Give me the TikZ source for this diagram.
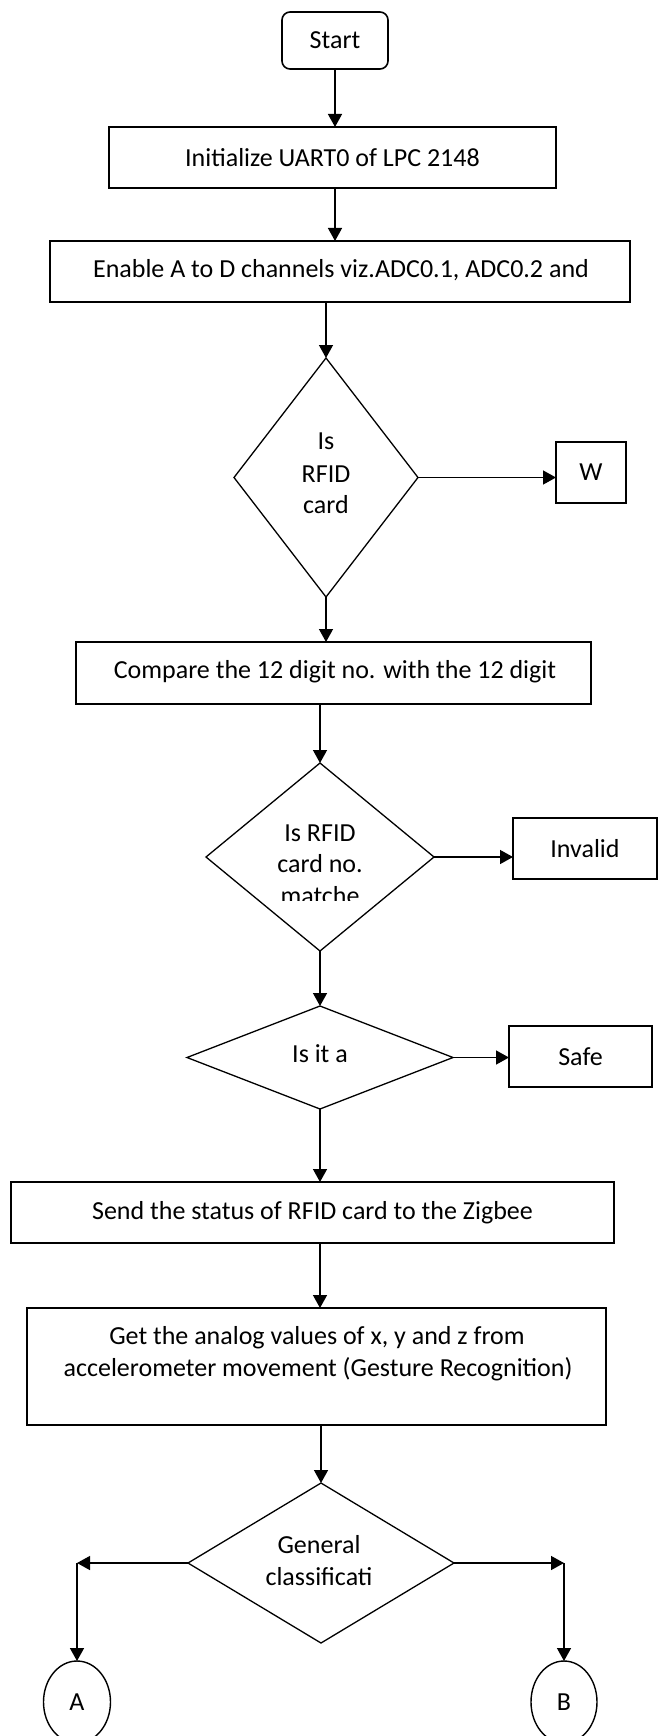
\documentclass[tikz,border=0pt]{standalone}
\usepackage{fontspec}
\setmainfont{Carlito}
\usetikzlibrary{arrows.meta,shapes.geometric}

\begin{document}
\begin{tikzpicture}[x=1pt,y=-1pt,
  font=\fontsize{26}{32}\selectfont,
  box/.style={draw,line width=1.6pt,rectangle,inner sep=0pt,outer sep=0pt},
  decision/.style={draw,line width=1.3pt,diamond,inner sep=0pt,outer sep=0pt},
  term/.style={draw,line width=1.4pt,ellipse,inner sep=0pt,outer sep=0pt},
  conn/.style={line width=1.4pt,-{Triangle[length=13pt,width=14pt]}},
  lbl/.style={inner sep=0pt,outer sep=0pt,anchor=base}
]
% page
\fill[white] (0,0) rectangle (659,1736);
\useasboundingbox (0,0) rectangle (659,1736);

% process boxes
\node[box,rounded corners=8pt,minimum width=106pt,minimum height=57pt] (start) at (335,40.5) {Start};
\node[box,minimum width=447pt,minimum height=61pt] (init) at (332.5,157.5) {Initialize UART0 of LPC 2148};
\node[box,minimum width=580pt,minimum height=61pt] (enable) at (340,271.5) {};
\node[lbl] (enabletxt) at (341,277) {Enable A to D channels viz.ADC0.1, ADC0.2 and};
\node[box,minimum width=70pt,minimum height=61pt] (w) at (591,472.5) {W};
\node[box,minimum width=515pt,minimum height=62pt] (cmp) at (333.5,673) {};
\node[lbl] (cmptxt) at (335,678) {Compare the 12 digit no. with the 12 digit};
\node[box,minimum width=144pt,minimum height=61pt] (inv) at (585,848.5) {Invalid};
\node[box,minimum width=143pt,minimum height=61pt] (safe) at (580.5,1056.5) {Safe};
\node[box,minimum width=603pt,minimum height=61pt] (send) at (312.5,1212.5) {Send the status of RFID card to the Zigbee};
\node[box,minimum width=579pt,minimum height=117pt] (get) at (316.5,1366.5) {};
\node[lbl] (gettxt1) at (317,1344) {Get the analog values of x, y and z from};
\node[lbl] (gettxt2) at (318,1376) {accelerometer movement (Gesture Recognition)};

% decisions
\node[decision,minimum width=184pt,minimum height=239pt] (d1) at (326,477.5) {};
\node[lbl] (d1a) at (326,449) {Is};
\node[lbl] (d1b) at (326,482) {RFID};
\node[lbl] (d1c) at (326,513) {card};

\node[decision,minimum width=228pt,minimum height=188pt] (d2) at (320,857) {};
\node[lbl] (d2a) at (320,841) {Is RFID};
\node[lbl] (d2b) at (320,872) {card no.};
\begin{scope}
  \clip (240,880) rectangle (400,900);
  \node[lbl] (d2c) at (320,904) {matche};
\end{scope}

\node[decision,minimum width=266pt,minimum height=103pt] (d3) at (320,1057.5) {};
\node[lbl] (d3a) at (320,1062) {Is it a};

\node[decision,minimum width=266pt,minimum height=160pt] (d4) at (321,1563) {};
\node[lbl] (d4a) at (319,1553) {General};
\node[lbl] (d4b) at (319,1585) {classificati};

% connectors
\node[term,minimum width=67pt,minimum height=82pt] (A) at (77,1702) {A};
\node[term,minimum width=66pt,minimum height=82pt] (B) at (564,1702) {B};
\coordinate (cA) at (77,1563);
\coordinate (cB) at (564,1563);

% flow lines
\draw[conn] (start.south) -- (start.south |- init.north);
\draw[conn] (init.south -| start.south) -- (enable.north -| start.south);
\draw[conn] (enable.south -| d1.north) -- (d1.north);
\draw[conn] (d1.east) -- (d1.east -| w.west);
\draw[conn] (d1.south) -- (d1.south |- cmp.north);
\draw[conn] (cmp.south -| d2.north) -- (d2.north);
\draw[conn] (d2.east) -- (d2.east -| inv.west);
\draw[conn] (d2.south) -- (d3.north);
\draw[conn] (d3.east) -- (d3.east -| safe.west);
\draw[conn] (d3.south) -- (d3.south |- send.north);
\draw[conn] (send.south -| d3.south) -- (get.north -| d3.south);
\draw[conn] (get.south -| d4.north) -- (d4.north);
\draw[conn] (d4.west) -- (cA);
\draw[conn] (cA) -- (A.north);
\draw[conn] (d4.east) -- (cB);
\draw[conn] (cB) -- (B.north);
\end{tikzpicture}
\end{document}
